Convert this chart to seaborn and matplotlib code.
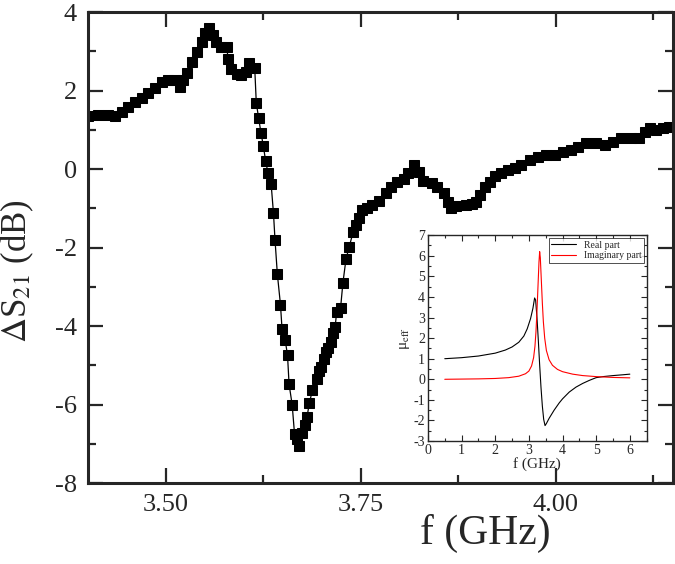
import numpy as np
import matplotlib
matplotlib.use('Agg')
import matplotlib.pyplot as plt
from matplotlib.ticker import MultipleLocator
import seaborn as sns

# measured transmission change (main panel)
freq_ghz = [3.400, 3.413, 3.426, 3.435, 3.444, 3.452, 3.460, 3.469, 3.477, 3.486,
            3.495, 3.503, 3.511, 3.518, 3.522, 3.527, 3.533, 3.540, 3.546, 3.550,
            3.555, 3.560, 3.565, 3.571, 3.578, 3.580, 3.584, 3.591, 3.597, 3.603,
            3.607, 3.614, 3.616, 3.619, 3.622, 3.625, 3.628, 3.631, 3.635, 3.638,
            3.640, 3.643, 3.647, 3.649, 3.653, 3.656, 3.658, 3.662, 3.665, 3.668,
            3.671, 3.675, 3.679, 3.681, 3.684, 3.688, 3.694, 3.696, 3.699, 3.703,
            3.705, 3.708, 3.712, 3.714, 3.717, 3.719, 3.724, 3.727, 3.731, 3.735,
            3.740, 3.744, 3.747, 3.751, 3.758, 3.764, 3.773, 3.782, 3.788, 3.796,
            3.805, 3.811, 3.818, 3.824, 3.830, 3.841, 3.847, 3.856, 3.862, 3.866,
            3.872, 3.885, 3.892, 3.897, 3.903, 3.909, 3.916, 3.922, 3.930, 3.939,
            3.948, 3.955, 3.967, 3.977, 3.987, 3.999, 4.009, 4.019, 4.028, 4.038,
            4.051, 4.063, 4.073, 4.083, 4.096, 4.107, 4.114, 4.120, 4.128, 4.137,
            4.145]
ds21_db = [1.35, 1.38, 1.38, 1.35, 1.45, 1.58, 1.71, 1.81, 1.94, 2.06,
           2.22, 2.27, 2.27, 2.09, 2.27, 2.45, 2.73, 2.98, 3.24, 3.46,
           3.59, 3.41, 3.24, 3.11, 3.11, 2.80, 2.55, 2.42, 2.39, 2.47,
           2.70, 2.57, 1.68, 1.30, 0.92, 0.59, 0.20, -0.10, -0.38, -1.12,
           -1.81, -2.68, -3.46, -4.08, -4.36, -4.74, -5.48, -6.01, -6.75, -6.88,
           -7.06, -6.73, -6.52, -6.32, -5.96, -5.63, -5.35, -5.15, -5.04, -4.84,
           -4.66, -4.56, -4.41, -4.18, -4.03, -3.64, -3.54, -2.90, -2.29, -1.99,
           -1.61, -1.43, -1.25, -1.04, -0.99, -0.92, -0.82, -0.61, -0.46, -0.33,
           -0.25, -0.10, 0.10, -0.08, -0.31, -0.36, -0.46, -0.61, -0.84, -0.99,
           -0.95, -0.92, -0.89, -0.84, -0.66, -0.46, -0.33, -0.18, -0.10, -0.03,
           0.03, 0.10, 0.23, 0.31, 0.36, 0.36, 0.43, 0.48, 0.56, 0.66,
           0.66, 0.61, 0.69, 0.79, 0.79, 0.79, 0.94, 1.04, 0.99, 1.04,
           1.07]

# effective permeability (inset)
real_f = [0.5, 1.0, 1.5, 2.0, 2.3, 2.5, 2.7, 2.85, 2.95, 3.05, 3.12, 3.17,
          3.20, 3.24, 3.28, 3.32, 3.36, 3.40, 3.44, 3.48, 3.52, 3.60, 3.75,
          3.90, 4.00, 4.20, 4.40, 4.60, 4.80, 5.00, 5.20, 5.50, 5.80, 6.00]
real_mu = [1.00, 1.05, 1.13, 1.27, 1.42, 1.57, 1.80, 2.10, 2.45, 2.95, 3.45, 3.95,
           3.85, 3.00, 1.90, 0.70, -0.40, -1.30, -1.95, -2.25, -2.15, -1.90, -1.50,
           -1.15, -0.95, -0.62, -0.38, -0.20, -0.05, 0.08, 0.13, 0.18, 0.22, 0.25]
imag_f = [0.5, 1.0, 1.5, 2.0, 2.4, 2.7, 2.9, 3.0, 3.08, 3.14, 3.18, 3.21, 3.24,
          3.27, 3.30, 3.32, 3.34, 3.37, 3.40, 3.43, 3.47, 3.52, 3.60, 3.70,
          3.85, 4.00, 4.30, 4.60, 5.00, 5.50, 6.00]
imag_mu = [0.00, 0.01, 0.02, 0.04, 0.08, 0.15, 0.27, 0.40, 0.65, 1.05, 1.60, 2.30,
           3.30, 4.50, 5.70, 6.20, 5.90, 4.80, 3.70, 2.80, 2.00, 1.40, 0.95, 0.68,
           0.48, 0.37, 0.25, 0.18, 0.13, 0.09, 0.07]

sns.set_style('ticks')
plt.rcParams['font.family'] = ['Liberation Serif', 'DejaVu Serif']
plt.rcParams['mathtext.fontset'] = 'stix'
plt.rcParams['axes.unicode_minus'] = False

fig = plt.figure(figsize=(6.75, 5.64), dpi=100)
ax = fig.add_axes([0.130, 0.1436, 0.867, 0.8351])

sns.lineplot(x=freq_ghz, y=ds21_db, ax=ax, color='black', linewidth=0.9,
             marker='s', markersize=7, markeredgecolor='black',
             estimator=None, sort=False)

ax.set_xlim(3.40, 4.15)
ax.set_ylim(-8, 4)
ax.xaxis.set_minor_locator(MultipleLocator(0.125))
ax.yaxis.set_major_locator(MultipleLocator(2))
ax.yaxis.set_minor_locator(MultipleLocator(1))
ax.set_xticks([3.50, 3.75, 4.00])
ax.set_xticklabels(['3.50', '3.75', '4.00'])
ax.tick_params(which='both', direction='in', top=True, right=True,
               labelsize=19, width=1.6, pad=8)
ax.tick_params(which='major', length=11)
ax.tick_params(which='minor', length=6)
for s in ax.spines.values():
    s.set_linewidth(2.2)

ax.set_xlabel('f (GHz)', fontsize=30)
ax.xaxis.set_label_coords(0.68, -0.066)
ax.set_ylabel(r'$\Delta$S$_{21}$ (dB)', fontsize=25)
ax.yaxis.set_label_coords(-0.088, 0.45)

# inset
axin = fig.add_axes([0.634, 0.218, 0.324, 0.365])
sns.lineplot(x=real_f, y=real_mu, ax=axin, color='black', linewidth=0.8,
             label='Real part', estimator=None)
sns.lineplot(x=imag_f, y=imag_mu, ax=axin, color='red', linewidth=0.8,
             label='Imaginary part', estimator=None)
axin.set_xlim(0, 6.5)
axin.set_ylim(-3, 7)
axin.xaxis.set_major_locator(MultipleLocator(1))
axin.xaxis.set_minor_locator(MultipleLocator(0.5))
axin.yaxis.set_major_locator(MultipleLocator(1))
axin.yaxis.set_minor_locator(MultipleLocator(0.5))
axin.tick_params(which='both', direction='in', top=True, right=True,
                 labelsize=10, width=0.8, pad=2)
axin.tick_params(which='major', length=4)
axin.tick_params(which='minor', length=2)
for s in axin.spines.values():
    s.set_linewidth(1.0)
axin.set_xlabel('f (GHz)', fontsize=11, labelpad=0)
axin.set_ylabel('μ$_{\\mathrm{eff}}$', fontsize=11, labelpad=1)
leg = axin.legend(loc='upper right', fontsize=7, frameon=True, fancybox=False,
                  borderaxespad=0.25, handlelength=2.5, borderpad=0.3,
                  labelspacing=0.2)
leg.get_frame().set_edgecolor('black')
leg.get_frame().set_linewidth(0.6)

fig.savefig('out.png', dpi=100)
